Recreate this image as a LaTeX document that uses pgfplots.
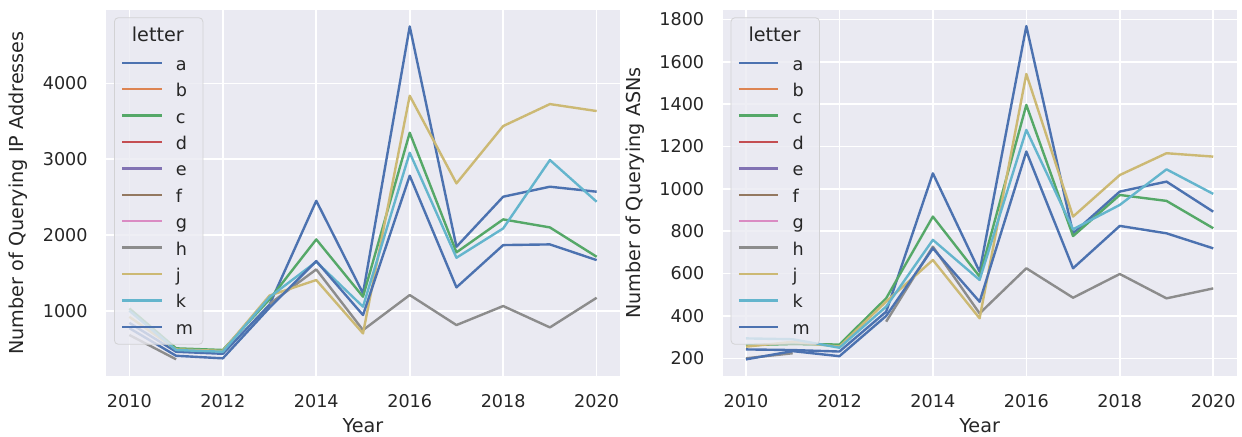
\documentclass[border=0pt]{standalone}
\usepackage{fontspec}
\setmainfont{DejaVu Sans}
\usepackage{pgfplots}
\usepackage{pgfplotstable}
\pgfplotsset{compat=1.18}
\definecolor{cA}{HTML}{4C72B0}
\definecolor{cB}{HTML}{DD8452}
\definecolor{cC}{HTML}{55A868}
\definecolor{cD}{HTML}{C44E52}
\definecolor{cE}{HTML}{8172B3}
\definecolor{cF}{HTML}{937860}
\definecolor{cG}{HTML}{DA8BC3}
\definecolor{cH}{HTML}{8C8C8C}
\definecolor{cJ}{HTML}{CCB974}
\definecolor{cK}{HTML}{64B5CD}
\definecolor{cM}{HTML}{4C72B0}
\definecolor{bg}{HTML}{EAEAF2}
\definecolor{txt}{HTML}{262626}
\definecolor{legedge}{HTML}{D2D2D4}

\pgfplotstableread{
year a c h j k m
2010 840 1030 680 920 1000 770
2011 459 504 359 490 482 406
2012 432 482 nan 470 459 372
2013 1080 1150 1090 1200 1180 1040
2014 2450 1941 1545 1405 1646 1655
2015 1229 1185 745 701 1053 943
2016 4750 3348 1207 3836 3084 2781
2017 1844 1770 811 2680 1699 1308
2018 2504 2205 1062 3436 2086 1866
2019 2636 2099 780 3726 2988 1875
2020 2570 1712 1171 3634 2438 1668
}\ipdata

\pgfplotstableread{
year a c h j k m
2010 242 262 200 255 294 195
2011 239 268 224 278 290 234
2012 232 265 nan 255 250 210
2013 420 483 373 468 444 400
2014 1073 869 727 664 759 719
2015 609 586 412 389 570 467
2016 1768 1396 625 1542 1278 1176
2017 790 777 486 869 809 625
2018 987 971 598 1065 924 825
2019 1034 943 483 1168 1092 790
2020 892 814 530 1152 976 719
}\asndata

\pgfplotsset{
  sbstyle/.style={
    scale only axis, width=257pt, height=183pt, anchor=south west,
    xmin=2009.5, xmax=2020.5,
    axis background/.style={fill=bg},
    axis line style={draw=none},
    tick style={draw=none},
    xmajorgrids, ymajorgrids,
    major grid style={white, line width=0.8pt},
    xtick={2010,2012,...,2020},
    unbounded coords=jump,
    /pgf/number format/1000 sep={},
    /pgf/number format/assume math mode=true,
    tick label style={font=\fontsize{8.8}{10}\selectfont, text=txt, inner sep=0pt},
    xticklabel style={anchor=north, yshift=-9pt},
    yticklabel style={anchor=east, xshift=-9pt},
    label style={font=\fontsize{9.6}{11}\selectfont, text=txt},
    xlabel style={at={(axis description cs:0.5,-0.1557)}, anchor=base},
    ylabel style={at={(axis description cs:-0.16,0.5)}, anchor=base},
    xlabel={Year},
    legend style={at={(axis description cs:0,1)}, anchor=north west,
      xshift=4pt, yshift=-3.65pt, fill=bg, fill opacity=0.8, text opacity=1,
      draw=legedge, rounded corners=2pt, inner xsep=3.35pt, inner ysep=3.2pt,
      row sep=5.1pt, column sep=6.5pt, font=\fontsize{8.8}{10}\selectfont,
      text=txt, cells={anchor=base west},
      nodes={inner sep=0pt, text height=6.3pt, text depth=1.8pt, anchor=base west}},
    legend image code/.code={\draw[##1, line width=1.2pt] (0pt,3.8pt) -- (19.7pt,3.8pt);},
  },
  ln/.style={#1, line width=1.2pt, line join=round},
}

\newcommand{\legendtitle}{%
  \addlegendimage{empty legend}
  \addlegendentry[font=\fontsize{9.6}{11}\selectfont, text height=8.6pt, text depth=3.1pt]{\makebox[10.15pt][l]{\hspace*{-22pt}letter}}}

\begin{document}
\begin{tikzpicture}
\useasboundingbox (0,0) rectangle (621pt,218pt);
\begin{axis}[sbstyle, at={(53pt,30pt)}, ymin=139, ymax=4967,
  ytick={1000,2000,3000,4000},
  ylabel={Number of Querying IP Addresses}]
\legendtitle
\addplot[ln=cA] table[x=year,y=a]{\ipdata}; \addlegendentry{a}
\addlegendimage{ln=cB} \addlegendentry{b}
\addplot[ln=cC] table[x=year,y=c]{\ipdata}; \addlegendentry{c}
\addlegendimage{ln=cD} \addlegendentry{d}
\addlegendimage{ln=cE} \addlegendentry{e}
\addlegendimage{ln=cF} \addlegendentry{f}
\addlegendimage{ln=cG} \addlegendentry{g}
\addplot[ln=cH] table[x=year,y=h]{\ipdata}; \addlegendentry{h}
\addplot[ln=cJ] table[x=year,y=j]{\ipdata}; \addlegendentry{j}
\addplot[ln=cK] table[x=year,y=k]{\ipdata}; \addlegendentry{k}
\addplot[ln=cM] table[x=year,y=m]{\ipdata}; \addlegendentry{m}
\end{axis}
\begin{axis}[sbstyle, at={(361.3pt,30pt)}, ymin=116.5, ymax=1844,
  ytick={200,400,...,1800},
  ylabel={Number of Querying ASNs}]
\legendtitle
\addplot[ln=cA] table[x=year,y=a]{\asndata}; \addlegendentry{a}
\addlegendimage{ln=cB} \addlegendentry{b}
\addplot[ln=cC] table[x=year,y=c]{\asndata}; \addlegendentry{c}
\addlegendimage{ln=cD} \addlegendentry{d}
\addlegendimage{ln=cE} \addlegendentry{e}
\addlegendimage{ln=cF} \addlegendentry{f}
\addlegendimage{ln=cG} \addlegendentry{g}
\addplot[ln=cH] table[x=year,y=h]{\asndata}; \addlegendentry{h}
\addplot[ln=cJ] table[x=year,y=j]{\asndata}; \addlegendentry{j}
\addplot[ln=cK] table[x=year,y=k]{\asndata}; \addlegendentry{k}
\addplot[ln=cM] table[x=year,y=m]{\asndata}; \addlegendentry{m}
\end{axis}
\end{tikzpicture}
\end{document}
